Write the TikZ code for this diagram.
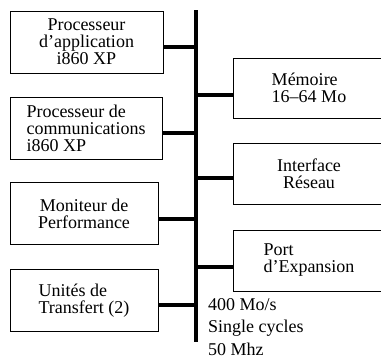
\documentclass[tikz,border=0pt]{standalone}
\usepackage{fontspec}
\setmainfont{Liberation Serif}
\tikzset{
  unit/.style={draw, line width=0.6pt, minimum height=62pt, inner sep=0pt,
    font=\fontsize{18}{17}\selectfont},
  link/.style={line width=4.5pt},
}
\begin{document}
\begin{tikzpicture}[x=1pt,y=-1pt]
    \useasboundingbox (0,0) rectangle (381,364);
    \clip (0,0) rectangle (381,364);

    % --- bus ---
    \coordinate (top) at (196,10); \coordinate (bot) at (196,342);
    \draw[link] (top)--(bot);

    % --- left side units ---
    \node[unit, minimum width=153pt, align=center] (app) at (86.5,42) {Processeur\\d'application\\i860 XP};
    \node[unit, minimum width=152pt, align=left] (com) at (86,128) {Processeur de\\communications\\i860 XP};
    \node[unit, minimum width=148pt, align=center] (mon) at (84,213.5) {Moniteur de\\Performance};
    \node[unit, minimum width=148pt, align=left] (dma) at (84,300.5) {Unités de\\Transfert (2)};

    % --- right side units (cut at the border) ---
    \node[unit, minimum width=152pt, minimum height=60pt, align=left] (mem) at (309,88) {Mémoire\\16--64 Mo};
    \node[unit, minimum width=152pt, minimum height=61pt, align=center] (net) at (309,173.5) {Interface\\Réseau};
    \node[unit, minimum width=152pt, minimum height=61pt, align=left] (exp) at (309,260.5) {Port\\d'Expansion};

    % junctions on the bus
    \coordinate (j1) at (196,47); \coordinate (j2) at (196,133);
    \coordinate (j3) at (196,219); \coordinate (j4) at (196,305);
    \coordinate (k1) at (196,95); \coordinate (k2) at (196,178); \coordinate (k3) at (196,267);

    \foreach \u/\j in {app/j1,com/j2,mon/j3,dma/j4} \draw[link] (\j -| \u.east)--(\j);
    \foreach \u/\j in {mem/k1,net/k2,exp/k3} \draw[link] (\j)--(\j -| \u.west);

    \node[anchor=north west, align=left, inner sep=0pt, font=\fontsize{18}{22.5}\selectfont] (rate) at (208,298) {400 Mo/s\\Single cycles\\50 Mhz};
\end{tikzpicture}
\end{document}
